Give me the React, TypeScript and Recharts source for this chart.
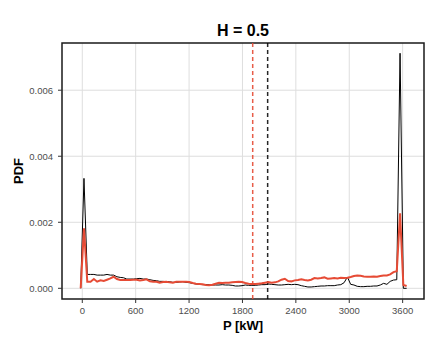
import { LineChart, Line, XAxis, YAxis, CartesianGrid, ReferenceLine, ReferenceArea } from "recharts";

// power bins (kW)
const pValues = [
  -18, 19, 56, 93, 130, 167, 204, 241, 278, 315, 352, 389, 426, 463, 500, 537, 574, 611, 648, 685,
  722, 759, 796, 833, 870, 907, 944, 981, 1018, 1055, 1092, 1129, 1166, 1203, 1240, 1277, 1314, 1351, 1388, 1425,
  1462, 1499, 1536, 1573, 1610, 1647, 1684, 1721, 1758, 1795, 1832, 1869, 1906, 1943, 1980, 2017, 2054, 2091, 2128, 2165,
  2202, 2239, 2276, 2313, 2350, 2387, 2424, 2461, 2498, 2535, 2572, 2609, 2646, 2683, 2720, 2757, 2794, 2831, 2868, 2905,
  2942, 2979, 3016, 3053, 3090, 3127, 3164, 3201, 3238, 3275, 3312, 3349, 3386, 3423, 3460, 3497, 3534, 3571, 3608, 3645,
];

// black curve
const observedPdf = [
  0, 0.00333, 0.00042, 0.00042, 0.00042, 0.0004, 0.0004, 0.0004, 0.00042, 0.0004,
  0.0004, 0.00035, 0.00033, 0.00032, 0.00028, 0.00028, 0.00028, 0.00029, 0.0003, 0.00028,
  0.00028, 0.00026, 0.00024, 0.00023, 0.00021, 0.00021, 0.0002, 0.0002, 0.00018, 0.00018,
  0.00019, 0.0002, 0.00018, 0.00017, 0.00015, 0.00013, 0.00012, 0.00011, 0.00011, 0.00011,
  0.0001, 0.0001, 0.0001, 0.00011, 0.0001, 0.0001, 0.00009, 0.00007, 0.00007, 0.00008,
  0.0001, 0.00009, 0.00009, 0.00009, 0.0001, 0.00011, 0.00011, 0.00013, 0.00012, 0.00011,
  0.0001, 0.0001, 0.00011, 0.00012, 0.00011, 0.00012, 0.00011, 0.00008, 0.00006, 0.00004,
  0.00004, 0.00005, 0.00006, 0.00007, 0.00007, 0.00008, 0.00008, 0.00008, 0.0001, 0.00011,
  0.00017, 0.00034, 0.00012, 0.0001, 0.00006, 0.00005, 0.00005, 0.00006, 0.00006, 0.00007,
  0.00007, 0.0001, 0.00015, 0.00012, 0.00021, 0.00025, 0.00026, 0.00712, 0, 0,
];

// red curve
const simulatedPdf = [
  0, 0.00182, 0.0002, 0.0002, 0.00028, 0.0002, 0.00024, 0.00022, 0.00026, 0.0003,
  0.00035, 0.00028, 0.00025, 0.00025, 0.00025, 0.00025, 0.00026, 0.00026, 0.00024, 0.00025,
  0.00027, 0.00021, 0.0002, 0.0002, 0.00017, 0.00019, 0.0002, 0.00018, 0.00017, 0.0002,
  0.0002, 0.0002, 0.0002, 0.00019, 0.00016, 0.00014, 0.00013, 0.00012, 0.0001, 0.00009,
  0.00011, 0.00014, 0.00017, 0.00016, 0.00017, 0.00017, 0.00018, 0.00019, 0.0002, 0.00019,
  0.00016, 0.00014, 0.00013, 0.00013, 0.00014, 0.00015, 0.00017, 0.00019, 0.00017, 0.00018,
  0.00021, 0.00026, 0.00029, 0.00022, 0.00021, 0.00024, 0.00025, 0.00027, 0.00025, 0.00024,
  0.00026, 0.00031, 0.0003, 0.00031, 0.00033, 0.00029, 0.0003, 0.00031, 0.0003, 0.00032,
  0.00031, 0.00032, 0.00034, 0.00037, 0.00039, 0.00038, 0.00036, 0.00035, 0.00035, 0.00036,
  0.00035, 0.00037, 0.00039, 0.00039, 0.00042, 0.00049, 0.00052, 0.00227, 0.0001, 0.00007,
];

const meanObserved = 2083;
const meanSimulated = 1915;

const xTicks = [0, 600, 1200, 1800, 2400, 3000, 3600];
const yTicks = [0, 0.002, 0.004, 0.006];

const X_DOMAIN: [number, number] = [-228, 3840];
const Y_DOMAIN: [number, number] = [-0.000324, 0.00743];

const RED = "#E64B35";
const FONT = "'Liberation Sans', Arial, sans-serif";

const data = pValues.map((p, i) => ({ p, observed: observedPdf[i], simulated: simulatedPdf[i] }));

const tickStyle = { fontSize: 9.5, fill: "#4d4d4d", fontFamily: FONT };

export default function App() {
  return (
    <div style={{ position: "absolute", left: 0, top: 0, width: 436, height: 345, background: "#fff", fontFamily: FONT }}>
      <LineChart width={436} height={345} data={data} margin={{ top: 43, right: 12, bottom: 0, left: 0 }}>
        <CartesianGrid stroke="#dedede" strokeWidth={1} horizontalValues={yTicks} verticalValues={xTicks} />
        <XAxis
          dataKey="p"
          type="number"
          domain={X_DOMAIN}
          ticks={xTicks}
          allowDataOverflow
          height={46}
          axisLine={false}
          tickLine={{ stroke: "#333" }}
          tickSize={4}
          tickMargin={4}
          tick={tickStyle}
        />
        <YAxis
          type="number"
          domain={Y_DOMAIN}
          ticks={yTicks}
          allowDataOverflow
          width={62}
          axisLine={false}
          tickLine={{ stroke: "#333" }}
          tickSize={4}
          tickMargin={5}
          tick={tickStyle}
          tickFormatter={(v: number) => v.toFixed(3)}
        />
        <ReferenceLine x={meanSimulated} stroke={RED} strokeOpacity={0.9} strokeWidth={1.5} strokeDasharray="4 3" />
        <ReferenceLine x={meanObserved} stroke="#000" strokeOpacity={0.85} strokeWidth={1.5} strokeDasharray="4 3" />
        <Line type="linear" dataKey="observed" stroke="#000" strokeWidth={1} dot={false} isAnimationActive={false} />
        <Line type="linear" dataKey="simulated" stroke={RED} strokeWidth={2} dot={false} isAnimationActive={false} />
        <ReferenceArea x1={X_DOMAIN[0]} x2={X_DOMAIN[1]} y1={Y_DOMAIN[0]} y2={Y_DOMAIN[1]} fill="none" stroke="#1a1a1a" strokeWidth={1.5} />
      </LineChart>
      <div style={{ position: "absolute", left: 62, width: 362, top: 23, textAlign: "center", fontSize: 16, lineHeight: "16px", fontWeight: "bold" }}>
        H = 0.5
      </div>
      <div style={{ position: "absolute", left: 62, width: 362, top: 319, textAlign: "center", fontSize: 13, lineHeight: "13px", fontWeight: "bold" }}>
        P [kW]
      </div>
      <div
        style={{
          position: "absolute",
          left: 18,
          top: 171,
          transform: "translate(-50%, -50%) rotate(-90deg)",
          fontSize: 13,
          lineHeight: "13px",
          fontWeight: "bold",
          whiteSpace: "nowrap",
        }}
      >
        PDF
      </div>
    </div>
  );
}
